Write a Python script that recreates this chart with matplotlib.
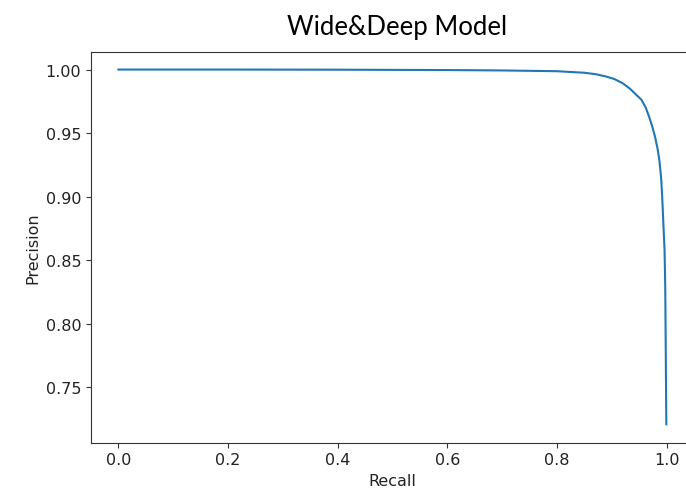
import matplotlib
matplotlib.use('Agg')
import matplotlib.pyplot as plt

# precision-recall curve
recall = [0.0, 0.2, 0.4, 0.6, 0.7, 0.8, 0.85, 0.87, 0.89, 0.905, 0.92,
          0.933, 0.945, 0.954, 0.962, 0.968, 0.974, 0.979, 0.984, 0.987,
          0.990, 0.992, 0.994, 0.9963, 0.9975, 0.998, 0.9995]
precision = [1.0, 1.0, 0.9999, 0.9996, 0.9993, 0.9987, 0.9975, 0.9964,
             0.9945, 0.9925, 0.9892, 0.985, 0.980, 0.9763, 0.970, 0.963,
             0.955, 0.947, 0.9367, 0.928, 0.915, 0.900, 0.880, 0.858,
             0.830, 0.805, 0.721]

title = 'Wide&Deep Model'

#=====================================================

def main():
    fig = plt.figure(figsize=(6.86, 5.02), dpi=100)
    W, H = 686, 502
    # axes box in pixels; right side runs past the figure edge like the reference
    left, right, top, bottom = 91, 694, 52.5, 443.5
    ax = fig.add_axes([left / W, 1 - bottom / H, (right - left) / W, (bottom - top) / H])

    ax.plot(recall, precision, color='#1f77b4', lw=1.5)

    ax.set_xlim(-0.05, 1.05)
    ax.set_ylim(0.7067, 1.0142)
    ax.set_xticks([0.0, 0.2, 0.4, 0.6, 0.8, 1.0])
    ax.set_yticks([0.75, 0.80, 0.85, 0.90, 0.95, 1.00])
    ax.set_yticklabels(['0.75', '0.80', '0.85', '0.90', '0.95', '1.00'])

    for s in ax.spines.values():
        s.set_color('#333333')
    ax.spines['right'].set_visible(False)
    ax.tick_params(labelsize=11.5, colors='#333333', labelcolor='#222222')
    ax.set_xlabel('Recall', fontsize=11.5, color='#222222')
    ax.set_ylabel('Precision', fontsize=11.5, color='#222222')

    fig.text(397 / W, 1 - 28 / H, title, ha='center', va='center',
             fontsize=18.5, family=['Lato', 'DejaVu Sans'], color='black')

    fig.savefig('out.png', dpi=100)

if __name__ == '__main__':
    main()
